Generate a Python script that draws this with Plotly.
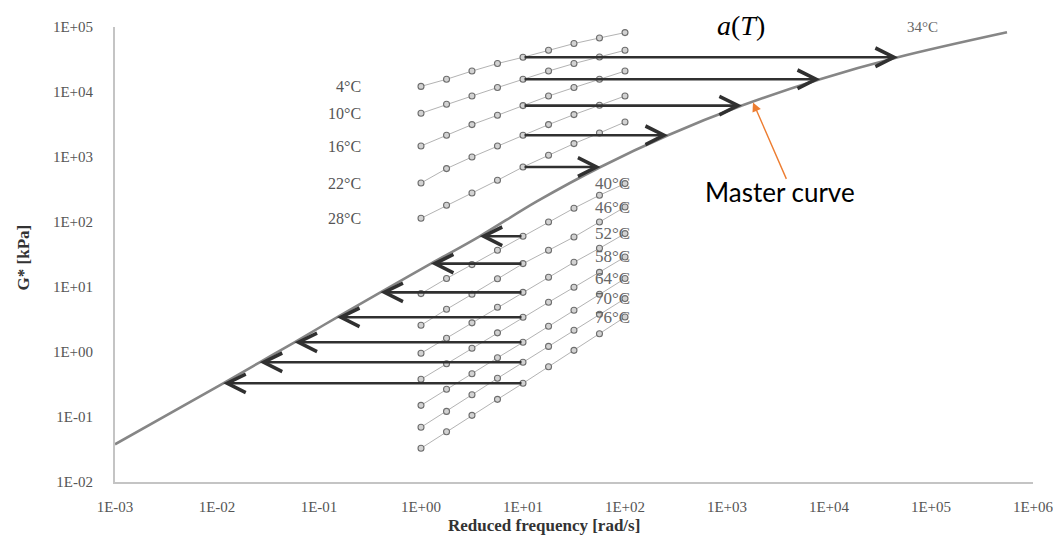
import numpy as np
import plotly.graph_objects as go

# ---------------- data ----------------
x_tick_vals = [1e-3, 1e-2, 1e-1, 1e0, 1e1, 1e2, 1e3, 1e4, 1e5, 1e6]
x_tick_text = ["1E-03", "1E-02", "1E-01", "1E+00", "1E+01", "1E+02", "1E+03", "1E+04", "1E+05", "1E+06"]
y_tick_vals = [1e-2, 1e-1, 1e0, 1e1, 1e2, 1e3, 1e4, 1e5]
y_tick_text = ["1E-02", "1E-01", "1E+00", "1E+01", "1E+02", "1E+03", "1E+04", "1E+05"]

# test frequencies [rad/s]
freq = [1.0, 1.78, 3.16, 5.62, 10.0, 17.8, 31.6, 56.2, 100.0]

# cold isotherms (shifted to higher frequency)
cold_labels = ["4°C", "10°C", "16°C", "22°C", "28°C"]
g_4c = [12200, 15700, 21000, 27400, 34200, 43900, 55600, 67800, 82000]
g_10c = [4700, 6470, 8670, 11700, 15700, 21000, 27400, 34500, 43800]
g_16c = [1476, 2158, 3150, 4385, 6180, 8670, 11700, 15700, 21000]
g_22c = [398, 663, 1000, 1476, 2158, 3150, 4490, 6240, 8670]
g_28c = [114, 181, 279, 438, 702, 1062, 1607, 2340, 3453]
cold_series = [g_4c, g_10c, g_16c, g_22c, g_28c]
cold_shift_freq = [47400, 8170, 1400, 264, 57.5]

# hot isotherms (shifted to lower frequency)
hot_labels = ["40°C", "46°C", "52°C", "58°C", "64°C", "70°C", "76°C"]
g_40c = [7.91, 13.5, 22.1, 36.7, 60.3, 100, 163, 258, 390]
g_46c = [2.58, 4.54, 7.72, 13.4, 22.9, 36.7, 58.8, 100, 170]
g_52c = [0.955, 1.63, 2.81, 4.87, 8.28, 14.1, 24.0, 39.4, 66.3]
g_58c = [0.380, 0.658, 1.14, 1.97, 3.42, 5.82, 9.89, 16.8, 29.0]
g_64c = [0.151, 0.267, 0.462, 0.815, 1.41, 2.49, 4.38, 7.72, 13.5]
g_70c = [0.0695, 0.122, 0.220, 0.394, 0.695, 1.22, 2.16, 3.80, 6.63]
g_76c = [0.0330, 0.0592, 0.106, 0.187, 0.330, 0.592, 1.06, 1.91, 3.45]
hot_series = [g_40c, g_46c, g_52c, g_58c, g_64c, g_70c, g_76c]
hot_shift_freq = [3.76, 1.25, 0.40, 0.150, 0.0575, 0.0262, 0.0115]

# master curve (reference 34°C)
master_freq = [0.001, 0.0115, 0.0262, 0.0575, 0.150, 0.40, 1.25, 3.76, 13.8, 57.5, 264, 1400, 8170, 47400, 556000]
master_g = [0.038, 0.330, 0.695, 1.41, 3.42, 8.28, 22.9, 60.3, 209, 702, 2158, 6180, 15700, 34200, 82800]

arrow_start_index = 4  # arrows start at 10 rad/s

# ---------------- styles ----------------
SERIF = "Liberation Serif"
iso_line = dict(color="#b3b3b3", width=1)
iso_marker = dict(symbol="circle", size=6, color="#d2d2d2", line=dict(color="#6e6e6e", width=1.1))

fig = go.Figure()

for g in cold_series + hot_series:
    fig.add_trace(go.Scatter(x=freq, y=g, mode="lines+markers", line=iso_line,
                             marker=iso_marker, showlegend=False, hoverinfo="skip"))

fig.add_trace(go.Scatter(x=master_freq, y=master_g, mode="lines",
                         line=dict(color="#868686", width=2.6, shape="spline", smoothing=1.0),
                         showlegend=False, hoverinfo="skip"))

annotations = []

# shift arrows
for series, tip in zip(cold_series + hot_series, cold_shift_freq + hot_shift_freq):
    g0 = series[arrow_start_index]
    annotations.append(dict(
        x=np.log10(tip), y=np.log10(g0), xref="x", yref="y",
        ax=np.log10(freq[arrow_start_index]), ay=np.log10(g0), axref="x", ayref="y",
        showarrow=True, arrowhead=5, arrowsize=1.4, arrowwidth=2.6,
        arrowcolor="#303030", text=""))

label_font = dict(family=SERIF, size=16, color="#555555")
for lab, series in zip(cold_labels, cold_series):
    annotations.append(dict(x=np.log10(freq[0]), y=np.log10(series[0]), xref="x", yref="y",
                            text=lab, showarrow=False, xanchor="right", xshift=-58,
                            font=label_font))
for lab, series in zip(hot_labels, hot_series):
    annotations.append(dict(x=np.log10(freq[-1]), y=np.log10(series[-1]), xref="x", yref="y",
                            text=lab, showarrow=False, xanchor="right", xshift=7,
                            font=dict(family=SERIF, size=17, color="#666666")))

annotations.append(dict(x=4.92, y=4.995, xref="x", yref="y", text="34°C", showarrow=False,
                        font=dict(family=SERIF, size=15, color="#666666")))
annotations.append(dict(x=3.137, y=1.004, xref="x", yref="paper", text="<i>a</i>(<i>T</i>)",
                        showarrow=False, yanchor="middle",
                        font=dict(family=SERIF, size=28, color="#000000")))
annotations.append(dict(x=3.52, y=2.457, xref="x", yref="y", text="Master curve",
                        showarrow=False, font=dict(family="Lato", size=26, color="#000000")))
annotations.append(dict(x=3.255, y=3.84, xref="x", yref="y", text="", showarrow=True,
                        ax=34, ay=78, arrowhead=2, arrowsize=1.3, arrowwidth=1.4,
                        arrowcolor="#ED7D31"))

# axis titles
annotations.append(dict(x=(544 - 115) / 918, y=-0.095, xref="paper", yref="paper",
                        xanchor="center", yanchor="middle",
                        text="<b>Reduced frequency [rad/s]</b>", showarrow=False,
                        font=dict(family=SERIF, size=17, color="#333333")))
annotations.append(dict(x=-0.1, y=0.494, xref="paper", yref="paper", textangle=-90,
                        xanchor="center", yanchor="middle",
                        text="<b>G* [kPa]</b>", showarrow=False,
                        font=dict(family=SERIF, size=17, color="#333333")))

axis_common = dict(type="log", showgrid=False, zeroline=False, showline=True,
                   linecolor="#c4c4c4", linewidth=2, ticks="", automargin=False,
                   ticklabeloverflow="allow",
                   tickfont=dict(family=SERIF, size=15, color="#555555"))

# page body has an 8px margin: figure shrunk by 16px so it fits the window exactly
fig.update_layout(
    width=1045, height=531,
    margin=dict(l=107, r=20, t=19, b=57),
    paper_bgcolor="white", plot_bgcolor="white",
    xaxis=dict(range=[-3, 6], tickvals=x_tick_vals, ticktext=x_tick_text,
               ticklabelstandoff=10, **axis_common),
    yaxis=dict(range=[-2, 5], tickvals=y_tick_vals, ticktext=y_tick_text,
               ticklabelstandoff=17, **axis_common),
    annotations=annotations,
    showlegend=False,
)

fig.write_html("out.html")
